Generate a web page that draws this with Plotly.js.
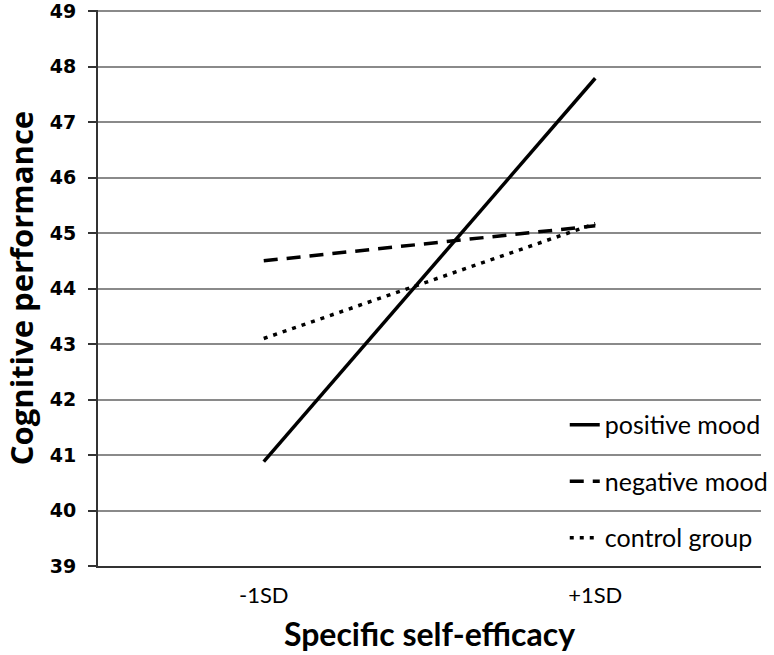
<!DOCTYPE html>
<html>
<head>
<meta charset="utf-8">
<script src="https://cdn.plot.ly/plotly-3.0.1.min.js"></script>
<style>html,body{margin:0;padding:0;background:#fff;}#chart{width:774px;height:655px;}</style>
</head>
<body>
<div id="chart"></div>
<script>
const categories = ["-1SD", "+1SD"];
const positiveMood = [40.88, 47.79];
const negativeMood = [44.5, 45.13];
const controlGroup = [43.1, 45.17];
const seriesNames = ["positive mood", "negative mood", "control group"];
const yTicks = [39, 40, 41, 42, 43, 44, 45, 46, 47, 48, 49];

const xIdx = categories.map((c, i) => i);
const traces = [
  {x: xIdx, y: positiveMood, name: seriesNames[0], mode: "lines", legendgroup: "a",
   line: {color: "#000", width: 3.5}},
  {x: xIdx, y: negativeMood, name: seriesNames[1], mode: "lines", legendgroup: "b",
   line: {color: "#000", width: 3.5, dash: "14px,9px"}},
  {x: xIdx, y: controlGroup, name: seriesNames[2], mode: "lines", legendgroup: "c",
   line: {color: "#000", width: 3.5, dash: "4px,6px"}}
];

const layout = {
  width: 774, height: 655,
  margin: {l: 98, r: 1, t: 10, b: 89},
  paper_bgcolor: "#fff", plot_bgcolor: "#fff",
  showlegend: true,
  legend: {x: 0.704, xanchor: "left", y: 0.152, yanchor: "middle",
           bgcolor: "rgba(0,0,0,0)", tracegroupgap: 21,
           font: {family: "Lato, sans-serif", size: 25, color: "#000"}},
  xaxis: {
    range: [-0.5, 1.5], tickvals: xIdx, ticktext: categories,
    showgrid: false, zeroline: false, showline: true, linecolor: "#333", linewidth: 2,
    ticks: "", ticklabelstandoff: 9,
    tickfont: {family: "Lato, sans-serif", size: 22, color: "#000"},
    title: {text: "<b>Specific self-efficacy</b>", standoff: 16,
            font: {family: "Lato, sans-serif", size: 32, color: "#000"}},
    fixedrange: true
  },
  yaxis: {
    range: [39, 49.02], tickvals: yTicks, ticktext: yTicks.map(v => "<b>" + v + "</b>"),
    showgrid: true, gridcolor: "#8a8a8a", gridwidth: 2,
    zeroline: false, showline: true, linecolor: "#333", linewidth: 2,
    ticks: "outside", ticklen: 8, tickwidth: 2, tickcolor: "#333",
    ticklabelstandoff: 8, ticklabeloverflow: "allow",
    tickfont: {family: "DejaVu Sans, sans-serif", size: 19, color: "#000"},
    title: {text: "<b>Cognitive performance</b>", standoff: 16,
            font: {family: "Open Sans, sans-serif", size: 31, color: "#000"}},
    fixedrange: true
  }
};

Plotly.newPlot("chart", traces, layout, {displayModeBar: false, staticPlot: true});
</script>
</body>
</html>
